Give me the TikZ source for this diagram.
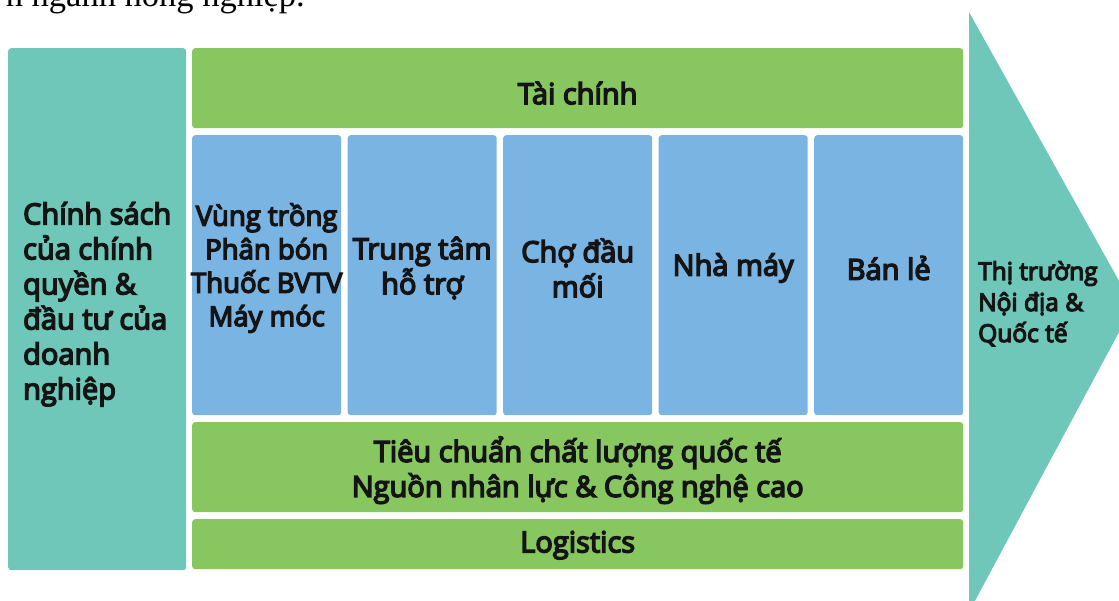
\documentclass[tikz,border=0pt]{standalone}
\usepackage{fontspec}
\usetikzlibrary{calc}
\newfontfamily\boxfont[FakeBold=5]{Open Sans}
\newfontfamily\topfont{Liberation Serif}
\definecolor{tealc}{RGB}{110,199,184}
\definecolor{greenc}{RGB}{136,198,96}
\definecolor{bluec}{RGB}{121,180,227}
\definecolor{txt}{RGB}{20,20,20}
\tikzset{
  panel/.style={rounded corners=3pt, inner sep=0pt, anchor=north west},
  tealbox/.style={panel, fill=tealc},
  greenbox/.style={panel, fill=greenc, minimum width=771pt},
  bluebox/.style={panel, fill=bluec, minimum width=149pt, minimum height=280pt},
  boxtext/.style={text=txt, inner sep=0pt, align=center, font=\boxfont\fontsize{29}{35}\selectfont}
}
\begin{document}
\begin{tikzpicture}[x=1pt,y=-1pt]
\useasboundingbox (0,0) rectangle (1119,600);
\clip (0,0) rectangle (1119,600);
\fill[white] (0,0) rectangle (1119,600);
% top cut-off sentence
\node[anchor=base east, inner sep=0pt, font=\topfont\fontsize{34.5}{40}\selectfont] (top) at (305,6) {n ngành nông nghiệp.};
% left box
\node[tealbox, minimum width=178pt, minimum height=522pt] (policy) at (8,48) {};
\node[boxtext, align=left] (policytxt) at ($(policy.center)+(0,-5)$) {Chính sách\\của chính\\quyền \&\\đầu tư của\\doanh\\nghiệp};
% top green
\node[greenbox, minimum height=80pt] (fin) at (192,48) {};
\node[boxtext] (fintxt) at ($(fin.center)+(0,5)$) {Tài chính};
% blue boxes
\node[bluebox] (b1) at (192,135) {};
\node[bluebox] (b2) at (347.5,135) {};
\node[bluebox] (b3) at (503,135) {};
\node[bluebox] (b4) at (658.5,135) {};
\node[bluebox] (b5) at (814,135) {};
\node[boxtext, font=\boxfont\fontsize{27.5}{33.5}\selectfont] (t1) at ($(b1.north)+(0,133)$) {Vùng trồng\\Phân bón\\Thuốc BVTV\\Máy móc};
\node[boxtext] (t2) at ($(b2.north)+(0,133)$) {Trung tâm\\hỗ trợ};
\node[boxtext] (t3) at ($(b3.north)+(0,133)$) {Chợ đầu\\mối};
\node[boxtext] (t4) at ($(b4.north)+(0,133)$) {Nhà máy};
\node[boxtext] (t5) at ($(b5.north)+(0,133)$) {Bán lẻ};
% bottom greens
\node[greenbox, minimum height=90pt] (std) at (192,422) {};
\node[boxtext] (stdtxt) at ($(std.center)+(0,3)$) {Tiêu chuẩn chất lượng quốc tế\\Nguồn nhân lực \& Công nghệ cao};
\node[greenbox, minimum height=50pt] (log) at (192,519) {};
\node[boxtext] (logtxt) at ($(log.center)+(0,1)$) {Logistics};
% arrow
\fill[tealc] (969,12) -- (1133,306) -- (969,612) -- cycle;
\node[boxtext, anchor=north west, align=left, font=\boxfont\fontsize{24.5}{31}\selectfont] (market) at (978,261) {Thị trường\\Nội địa \&\\Quốc tế};
\end{tikzpicture}
\end{document}
